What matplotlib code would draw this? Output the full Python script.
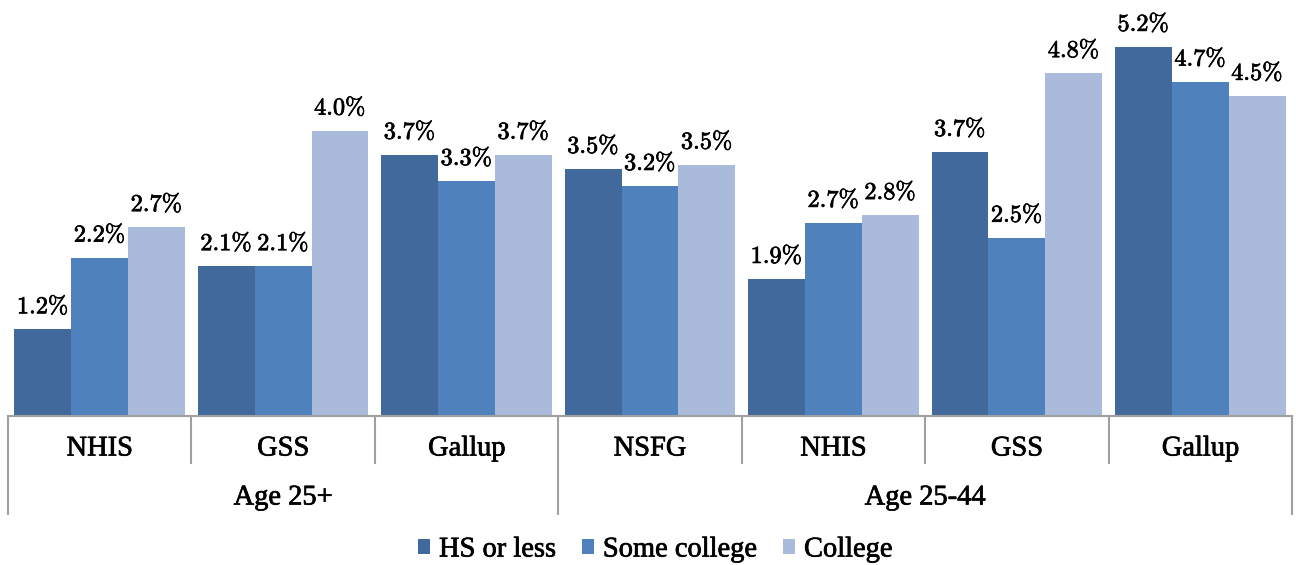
import matplotlib
matplotlib.use("Agg")
import matplotlib.pyplot as plt
import matplotlib.patheffects as pe
from matplotlib.transforms import blended_transform_factory
from matplotlib.patches import Patch

plt.rcParams['mathtext.fontset'] = 'cm'

categories = ["NHIS", "GSS", "Gallup", "NSFG", "NHIS", "GSS", "Gallup"]
groups = ["Age 25+", "Age 25-44"]
group_spans = [(0, 2), (3, 6)]
series_names = ["HS or less", "Some college", "College"]
hs_or_less = [1.22, 2.11, 3.68, 3.48, 1.93, 3.72, 5.20]
some_college = [2.23, 2.11, 3.31, 3.24, 2.72, 2.51, 4.71]
college = [2.66, 4.02, 3.68, 3.54, 2.83, 4.83, 4.51]
colors = ["#41699B", "#4F81BD", "#A9BADA"]

W, H = 1296, 565
fig = plt.figure(figsize=(W / 100, H / 100), dpi=100)
ax = fig.add_axes([8 / W, (H - 416) / H, 1284 / W, 416 / H])

thick = [pe.withStroke(linewidth=0.5, foreground='black')]

width = 0.31
x = list(range(len(categories)))
series = [hs_or_less, some_college, college]
for i, (vals, c) in enumerate(zip(series, colors)):
    xs = [xi + (i - 1) * width for xi in x]
    bars = ax.bar(xs, vals, width=width, color=c, edgecolor='none', zorder=2)
    for b, v in zip(bars, vals):
        ax.annotate(r'$%.1f\%%$' % v, (b.get_x() + b.get_width() / 2, v),
                    xytext=(0, 8), textcoords='offset points',
                    ha='center', va='bottom', fontsize=17.5, color='black',
                    path_effects=thick)

ax.set_xlim(-0.5, len(categories) - 0.5)
ax.set_ylim(0, 5.862)
ax.set_yticks([])
ax.set_xticks([])
for s in ['top', 'right', 'left']:
    ax.spines[s].set_visible(False)
ax.spines['bottom'].set_color('#A0A0A0')
ax.spines['bottom'].set_linewidth(1.5)

tr = blended_transform_factory(ax.transData, ax.transAxes)
serif = 'Liberation Serif'
fs = 20.5
for xi, cat in zip(x, categories):
    ax.text(xi, (416 - 449) / 416, cat, transform=tr, ha='center', va='center',
            fontsize=fs, family=serif, color='black', path_effects=thick)

inner_bottom = (416 - 464) / 416
outer_bottom = (416 - 515) / 416
outer_bounds = set()
for a, b in group_spans:
    outer_bounds.add(a - 0.5)
    outer_bounds.add(b + 0.5)
for k in range(len(categories) + 1):
    bx = k - 0.5
    yb = outer_bottom if bx in outer_bounds else inner_bottom
    ax.plot([bx, bx], [0, yb], transform=tr, color='#A0A0A0', lw=1.5,
            clip_on=False, solid_capstyle='butt')

for g, (a, b) in zip(groups, group_spans):
    ax.text((a + b) / 2, (416 - 498) / 416, g, transform=tr, ha='center',
            va='center', fontsize=fs, family=serif, color='black',
            path_effects=thick)

handles = [Patch(facecolor=c, edgecolor='none') for c in colors]
leg = fig.legend(handles, series_names, loc='center', bbox_to_anchor=(655 / W, 15 / H),
                 ncol=3, frameon=False, prop={'family': serif, 'size': fs},
                 handlelength=0.45, handleheight=0.45, handletextpad=0.3,
                 columnspacing=0.9, borderpad=0)
for t in leg.get_texts():
    t.set_path_effects(thick)

fig.savefig('out.png', dpi=100)
